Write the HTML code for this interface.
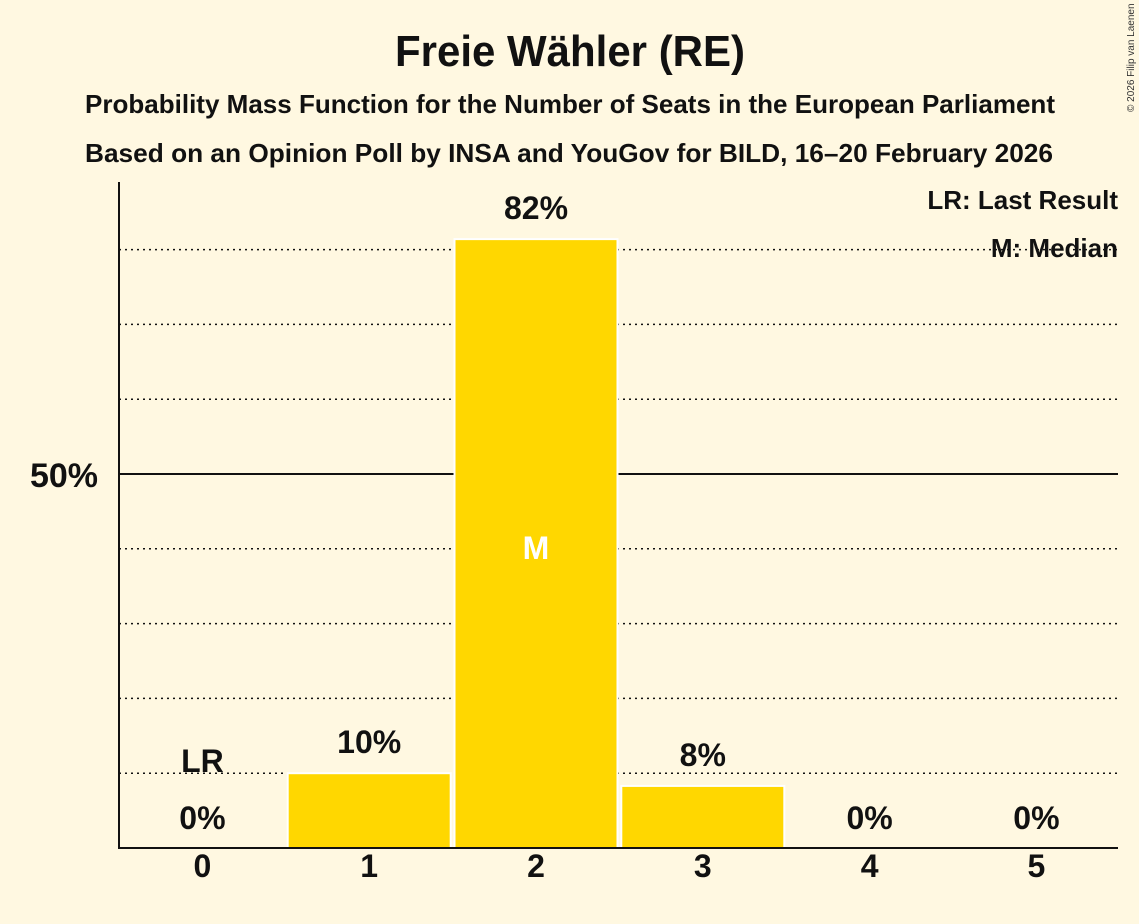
<!DOCTYPE html>
<html><head><meta charset="utf-8"><style>
html,body{margin:0;padding:0;background:#FFF8E1;}
svg{display:block;font-family:"Liberation Sans",sans-serif;}
</style></head><body>
<svg id="chart" width="1139" height="924" viewBox="0 0 1139 924">
<rect width="1139" height="924" fill="#FFF8E1"/>
<text x="570" y="66" text-anchor="middle" font-size="44" font-weight="bold" fill="#111" textLength="350" lengthAdjust="spacingAndGlyphs">Freie Wähler (RE)</text>
<text x="570" y="113" text-anchor="middle" font-size="26" font-weight="bold" fill="#111" textLength="970" lengthAdjust="spacingAndGlyphs">Probability Mass Function for the Number of Seats in the European Parliament</text>
<text x="569" y="162" text-anchor="middle" font-size="26" font-weight="bold" fill="#111" textLength="968" lengthAdjust="spacingAndGlyphs">Based on an Opinion Poll by INSA and YouGov for BILD, 16–20 February 2026</text>
<text transform="translate(1134,112) rotate(-90)" font-size="10" fill="#333">© 2026 Filip van Laenen</text>
<g id="grid"></g>
<g id="bars"></g>
<g id="labels"></g>
<line x1="119" y1="182" x2="119" y2="849" stroke="#111" stroke-width="2"/>
<line x1="118" y1="848" x2="1118" y2="848" stroke="#111" stroke-width="2"/>
<text x="98" y="487" text-anchor="end" font-size="34" font-weight="bold" fill="#111">50%</text>
<text x="1118" y="209" text-anchor="end" font-size="26" font-weight="bold" fill="#111">LR: Last Result</text>
<text x="1118" y="257" text-anchor="end" font-size="26" font-weight="bold" fill="#111">M: Median</text>
</svg>
<script>
const categories=[0,1,2,3,4,5];
const values=[0,10,81.4,8.3,0,0];
const valueLabels=["0%","10%","82%","8%","0%","0%"];
const gridTicks=[10,20,30,40,50,60,70,80];
const lastResult=0;
const median=2;
const NS="http://www.w3.org/2000/svg";
const x0=119,step=166.8,baseY=848,pxPerPct=7.48,barW=163;
function xc(i){return x0+step*(i+0.5);}
function y(v){return baseY-v*pxPerPct;}
function mk(tag,attrs,parent){const e=document.createElementNS(NS,tag);for(const k in attrs)e.setAttribute(k,attrs[k]);parent.appendChild(e);return e;}
const grid=document.getElementById('grid'),bars=document.getElementById('bars'),labels=document.getElementById('labels');
gridTicks.forEach(t=>{
  const l=mk('line',{x1:119,x2:1118,y1:y(t),y2:y(t),stroke:'#111','stroke-width':t===50?2:1.5,'stroke-dasharray':t===50?'none':'2,4'},grid);
  
  
});
categories.forEach((c,i)=>{
  const v=values[i];
  if(v>0){
    const r=mk('rect',{x:xc(i)-barW/2,y:y(v),width:barW,height:baseY-y(v),fill:'#FFD700',stroke:'#fff','stroke-width':2},bars);
    
    
  }
  const ly=v>0?y(v)-20:817+12;
  const t=mk('text',{x:xc(i),y:v>0?ly:829,'text-anchor':'middle','font-size':32,'font-weight':'bold',fill:'#111'},labels);
  t.textContent=valueLabels[i];
  
  
  const xt=mk('text',{x:xc(i),y:877,'text-anchor':'middle','font-size':32,'font-weight':'bold',fill:'#111'},labels);
  xt.textContent=String(c);
  
  
  if(c===lastResult){
    const lr=mk('text',{x:xc(i),y:(v>0?y(v)-60:772),'text-anchor':'middle','font-size':32,'font-weight':'bold',fill:'#111'},labels);
    lr.textContent='LR';
    
    
  }
  if(c===median){
    const m=mk('text',{x:xc(i),y:559,'text-anchor':'middle','font-size':32,'font-weight':'bold',fill:'#fff'},labels);
    m.textContent='M';
    
    
  }
});
</script>
</body></html>
